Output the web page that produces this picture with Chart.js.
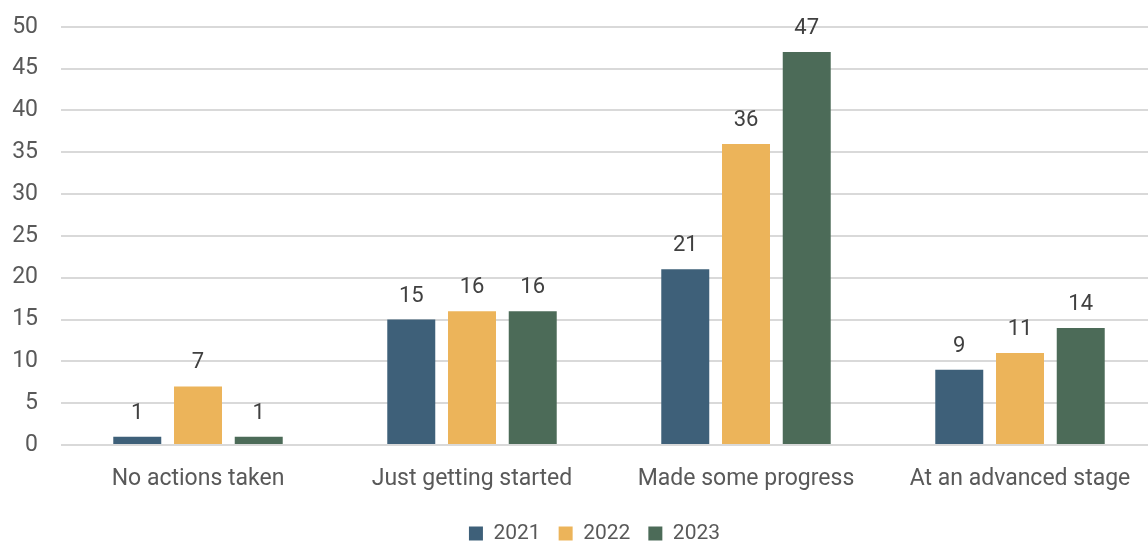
<!DOCTYPE html>
<html>
<head>
<meta charset="utf-8">
<script src="https://cdn.jsdelivr.net/npm/chart.js@4/dist/chart.umd.min.js"></script>
<style>
  html, body { margin: 0; padding: 0; background: #ffffff; overflow: hidden; }
  #wrap { position: relative; width: 1157px; height: 564px; margin-top: -10px; }
</style>
</head>
<body>
<div id="wrap"><canvas id="chart"></canvas></div>
<script>
const categories = ['No actions taken', 'Just getting started', 'Made some progress', 'At an advanced stage'];
const years = ['2021', '2022', '2023'];
const values2021 = [1, 15, 21, 9];
const values2022 = [7, 16, 36, 11];
const values2023 = [1, 16, 47, 14];
const yTicks = [0, 5, 10, 15, 20, 25, 30, 35, 40, 45, 50];
const colors = ['#3E6079', '#ECB45A', '#4C6B58'];

const FONT = 'Roboto, "Noto Sans", sans-serif';

// Value labels above each bar
const valueLabels = {
  id: 'valueLabels',
  afterDatasetsDraw(chart) {
    const ctx = chart.ctx;
    ctx.save();
    ctx.font = '22px ' + FONT;
    ctx.fillStyle = '#404040';
    ctx.textAlign = 'center';
    ctx.textBaseline = 'alphabetic';
    chart.data.datasets.forEach((ds, i) => {
      const meta = chart.getDatasetMeta(i);
      meta.data.forEach((bar, j) => {
        ctx.fillText(String(ds.data[j]), bar.x, bar.y - 18);
      });
    });
    ctx.restore();
  }
};

// Nudge the legend row a little to the right of the canvas centre
const legendShift = {
  id: 'legendShift',
  afterLayout(chart) {
    if (chart.legend) {
      chart.legend.left += 16;
      chart.legend.right += 16;
    }
  }
};

new Chart(document.getElementById('chart'), {
  type: 'bar',
  data: {
    labels: categories,
    datasets: [
      { label: years[0], data: values2021, backgroundColor: colors[0] },
      { label: years[1], data: values2022, backgroundColor: colors[1] },
      { label: years[2], data: values2023, backgroundColor: colors[2] }
    ]
  },
  options: {
    responsive: true,
    maintainAspectRatio: false,
    animation: false,
    datasets: { bar: { categoryPercentage: 0.665, barPercentage: 0.79 } },
    layout: { padding: { top: 0, bottom: 0, left: 0, right: 0 } },
    plugins: {
      legend: {
        position: 'bottom',
        labels: {
          font: { family: FONT, size: 21 },
          color: '#595959',
          boxWidth: 14,
          boxHeight: 14,
          padding: 18
        }
      },
      tooltip: { enabled: false }
    },
    scales: {
      x: {
        afterFit(scale) { scale.height = 60; },
        grid: { display: false, drawTicks: false },
        border: { display: false },
        ticks: {
          font: { family: FONT, size: 23 },
          color: '#595959',
          padding: 20
        }
      },
      y: {
        min: 0,
        max: 50,
        afterBuildTicks(scale) { scale.ticks = yTicks.map(v => ({ value: v })); },
        afterFit(scale) { scale.width = 61; },
        grid: { color: '#d9d9d9', lineWidth: 2, drawTicks: false },
        border: { display: false },
        ticks: {
          font: { family: FONT, size: 23 },
          color: '#595959',
          padding: 23
        }
      }
    }
  },
  plugins: [valueLabels, legendShift]
});
</script>
</body>
</html>
